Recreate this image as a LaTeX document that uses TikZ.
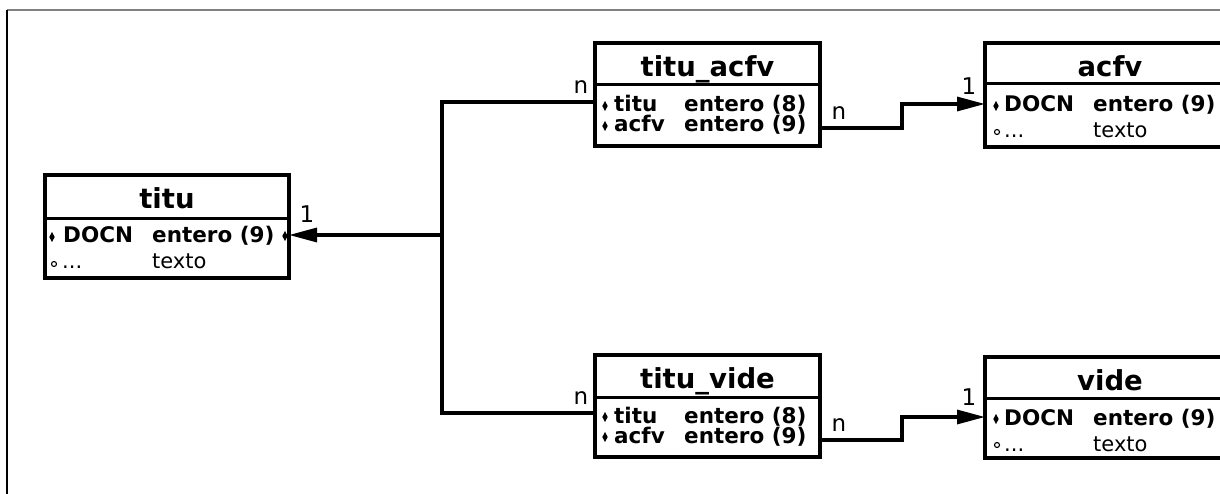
\documentclass[tikz,border=0pt]{standalone}
\usepackage{fontspec}
\setmainfont{DejaVu Sans}
\usetikzlibrary{arrows.meta}

\begin{document}
\begin{tikzpicture}[x=1pt,y=-1pt,
  tablebox/.style={draw, line width=3.2pt, inner sep=0pt, outer sep=0pt, anchor=north west},
  sepline/.style={line width=3pt},
  tabletitle/.style={font=\bfseries\fontsize{27.5}{27.5}\selectfont, inner sep=0pt, anchor=base},
  keyfield/.style={font=\bfseries\fontsize{21.5}{21.5}\selectfont, inner sep=0pt, anchor=base west},
  plainfield/.style={font=\fontsize{21}{21}\selectfont, inner sep=0pt, anchor=base west},
  card/.style={font=\fontsize{23}{23}\selectfont, inner sep=0pt},
  link/.style={line width=3.2pt},
  tolink/.style={link, -{Triangle[length=28pt, width=14pt]}},
  optmark/.style={draw, line width=1.1pt}
]
\useasboundingbox (0,0) rectangle (1220,494);

% page frame
\draw[line width=1.6pt, gray] (7,10) -- (1222,10);
\draw[line width=1.6pt] (7,10) -- (7,496);

% key and optional markers
\newcommand\keydot[2]{\fill (#1,#2) ++(0,-5) -- ++(2.7,5) -- ++(-2.7,5) -- ++(-2.7,-5) -- cycle;}
\newcommand\optdot[2]{\draw[optmark] (#1,#2) circle (2.5);}

% ---------- titu ----------
\node[tablebox, minimum width=244pt, minimum height=103pt] (titu) at (45,175) {};
\draw[sepline] (titu.west |- 0,219) -- (titu.east |- 0,219);
\node[tabletitle] (titu-name) at (167,209) {titu};
\keydot{52}{237}
\node[keyfield] (titu-k1) at (63,243) {DOCN};
\node[keyfield] (titu-k1t) at (152,243) {entero (9)};
\optdot{54}{264}
\node[plainfield] (titu-o1) at (62,269) {...};
\node[plainfield] (titu-o1t) at (152,269) {texto};
\keydot{285}{236}
\coordinate (titu-docn) at (289,235);

% ---------- titu_acfv ----------
\node[tablebox, minimum width=225pt, minimum height=103pt] (ta) at (595,43) {};
\draw[sepline] (ta.west |- 0,85) -- (ta.east |- 0,85);
\node[tabletitle] (ta-name) at (707.5,77) {titu\_acfv};
\keydot{605}{106}
\node[keyfield] (ta-k1) at (614,112) {titu};
\node[keyfield] (ta-k1t) at (684,112) {entero (8)};
\keydot{605}{126}
\node[keyfield] (ta-k2) at (614,132) {acfv};
\node[keyfield] (ta-k2t) at (684,132) {entero (9)};
\coordinate (ta-titu) at (595,102);
\coordinate (ta-acfv) at (820,128);

% ---------- acfv ----------
\node[tablebox, minimum width=250pt, minimum height=104pt] (acfv) at (985,43) {};
\draw[sepline] (acfv.west |- 0,84) -- (acfv.east |- 0,84);
\node[tabletitle] (acfv-name) at (1110,77) {acfv};
\keydot{996}{106}
\node[keyfield] (acfv-k1) at (1004,112) {DOCN};
\node[keyfield] (acfv-k1t) at (1093,112) {entero (9)};
\optdot{997}{132}
\node[plainfield] (acfv-o1) at (1004,138) {...};
\node[plainfield] (acfv-o1t) at (1093,138) {texto};
\coordinate (acfv-docn) at (985,104);

% ---------- titu_vide ----------
\node[tablebox, minimum width=225pt, minimum height=102pt] (tv) at (595,355) {};
\draw[sepline] (tv.west |- 0,397) -- (tv.east |- 0,397);
\node[tabletitle] (tv-name) at (707.5,388) {titu\_vide};
\keydot{605}{417}
\node[keyfield] (tv-k1) at (614,423) {titu};
\node[keyfield] (tv-k1t) at (684,423) {entero (8)};
\keydot{605}{437}
\node[keyfield] (tv-k2) at (614,443) {acfv};
\node[keyfield] (tv-k2t) at (684,443) {entero (9)};
\coordinate (tv-titu) at (595,413);
\coordinate (tv-acfv) at (820,440);

% ---------- vide ----------
\node[tablebox, minimum width=250pt, minimum height=101pt] (vide) at (985,357) {};
\draw[sepline] (vide.west |- 0,398) -- (vide.east |- 0,398);
\node[tabletitle] (vide-name) at (1110,390) {vide};
\keydot{996}{419}
\node[keyfield] (vide-k1) at (1004,425) {DOCN};
\node[keyfield] (vide-k1t) at (1093,425) {entero (9)};
\optdot{997}{445}
\node[plainfield] (vide-o1) at (1004,451) {...};
\node[plainfield] (vide-o1t) at (1093,451) {texto};
\coordinate (vide-docn) at (985,417);

% ---------- relationships ----------
\coordinate (hub) at (442,235);
\draw[link] (ta-titu) -| (hub) |- (tv-titu);
\draw[tolink] (hub) -- (titu-docn);
\draw[tolink] (ta-acfv) -- ++(82,0) |- (acfv-docn);
\draw[tolink] (tv-acfv) -- ++(82,0) |- (vide-docn);

% cardinalities
\node[card] (c1) at (307,214) {1};
\node[card] (c2) at (581,87) {n};
\node[card] (c3) at (581,398) {n};
\node[card] (c4) at (839,113) {n};
\node[card] (c5) at (969,86) {1};
\node[card] (c6) at (839,425) {n};
\node[card] (c7) at (969,397) {1};
\end{tikzpicture}
\end{document}
